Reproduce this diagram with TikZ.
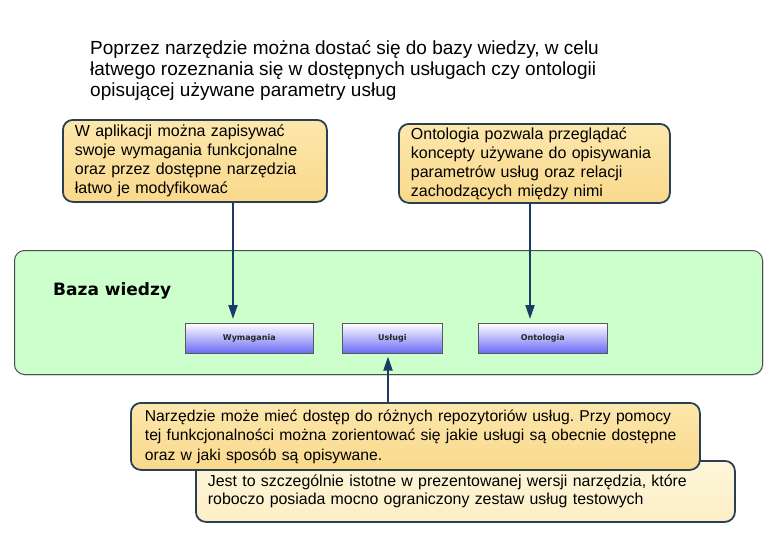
\documentclass[tikz,border=0pt]{standalone}
\usepackage{fontspec}
\setmainfont{Liberation Sans}
\newfontfamily\djv{DejaVu Sans}
\usetikzlibrary{arrows.meta,shadows}
\frenchspacing
\definecolor{navy}{HTML}{1B3A66}
\definecolor{cborder}{HTML}{2B3F52}
\definecolor{ctop}{HTML}{FCE7AC}
\definecolor{cbot}{HTML}{F9D98C}
\definecolor{ltop}{HTML}{FEF6DA}
\definecolor{lbot}{HTML}{FCEFC6}
\definecolor{kbgreen}{HTML}{CCFFCC}
\definecolor{btnblue}{HTML}{6A6AF4}
\tikzset{
  x=1pt,y=1pt,
  callout/.style={draw=cborder, line width=1.8pt, rounded corners=10pt,
    top color=ctop, bottom color=cbot, anchor=north west, align=left,
    inner xsep=12pt, inner ysep=0pt, font=\fontsize{16}{19}\selectfont},
  lcallout/.style={callout, top color=ltop, bottom color=lbot,
    font=\fontsize{15.9}{18.5}\selectfont},
  btn/.style={draw=gray!70!black, line width=0.6pt, top color=white, bottom color=btnblue,
    minimum width=128pt, minimum height=30pt, anchor=north west, inner sep=0pt,
    font=\djv\bfseries\fontsize{8}{9}\selectfont, text=black!85,
    drop shadow={shadow xshift=1pt, shadow yshift=-1pt, opacity=0.3}},
  arr/.style={draw=navy, line width=2pt, -{Triangle[length=14pt,width=9pt]}},
}
\begin{document}
\begin{tikzpicture}
\useasboundingbox (0,0) rectangle (775,-543);
% title
\node[anchor=north west, align=left, inner sep=0pt, font=\fontsize{19}{21}\selectfont]
  (title) at (90,-40) {Poprzez narzędzie można dostać się do bazy wiedzy, w celu\\
  łatwego rozeznania się w dostępnych usługach czy ontologii\\
  opisującej używane parametry usług};
% knowledge base
\node[draw=gray!60!black, line width=1pt, fill=kbgreen, rounded corners=10pt,
  anchor=north west, minimum width=748pt, minimum height=124pt, inner sep=0pt,
  drop shadow={shadow xshift=1pt, shadow yshift=-1pt, opacity=0.25}]
  (kb) at (14,-250) {};
\node[anchor=west, inner sep=0pt, font=\djv\bfseries\fontsize{17}{19}\selectfont]
  (kbl) at (53,-291) {Baza wiedzy};
\node[btn] (b1) at (185,-323) {Wymagania};
\node[btn, minimum width=100pt] (b2) at (342,-323) {Usługi};
\node[btn, minimum width=129pt] (b3) at (478,-323) {Ontologia};
% callouts
\node[callout, text width=240pt, minimum height=82pt] (c1) at (62,-119)
  {W aplikacji można zapisywać\\ swoje wymagania funkcjonalne\\ oraz przez dostępne narzędzia\\ łatwo je modyfikować};
\node[callout, text width=247pt, minimum height=79pt] (c2) at (398,-123)
  {Ontologia pozwala przeglądać\\ koncepty używane do opisywania\\ parametrów usług oraz relacji\\ zachodzących między nimi};
\node[lcallout, text width=515pt, minimum height=61pt] (c4) at (195,-460)
  {Jest to szczególnie istotne w prezentowanej wersji narzędzia, które\\ roboczo posiada mocno ograniczony zestaw usług testowych};
\node[callout, font=\fontsize{15.7}{19.5}\selectfont, inner xsep=14pt, text width=541pt, minimum height=67pt] (c3) at (130,-402)
  {Narzędzie może mieć dostęp do różnych repozytoriów usług. Przy pomocy\\ tej funkcjonalności można zorientować się jakie usługi są obecnie dostępne\\ oraz w jaki sposób są opisywane.};
% arrows
\draw[arr, shorten >=4pt] (c1.south -| 233,0) -- (b1.north -| 233,0);
\draw[arr, shorten >=4pt] (c2.south -| 530,0) -- (b3.north -| 530,0);
\draw[arr, shorten >=3pt] (c3.north -| 388,0) -- (b2.south -| 388,0);
\end{tikzpicture}
\end{document}
